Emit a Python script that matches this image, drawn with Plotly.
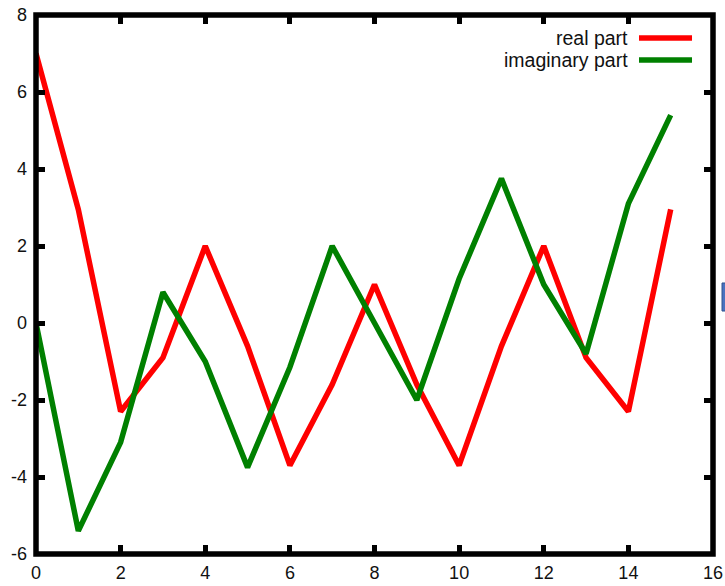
import plotly.graph_objects as go

# Spectrum components for bins 0..15
bins = list(range(16))
real_part = [7.0, 2.95, -2.3, -0.9, 2.0, -0.6, -3.7, -1.6, 1.0, -1.6, -3.7, -0.6, 2.0, -0.9, -2.3, 2.95]
imag_part = [0.0, -5.4, -3.1, 0.8, -1.0, -3.75, -1.15, 2.0, 0.0, -2.0, 1.15, 3.75, 1.0, -0.8, 3.1, 5.4]

series_names = ["real part", "imaginary part"]
series_colors = ["#ff0000", "#008000"]

x_ticks = list(range(0, 17, 2))
y_ticks = list(range(-6, 9, 2))
# plain hyphen-minus labels
x_labels = [str(v) for v in x_ticks]
y_labels = [str(v) for v in y_ticks]

fig = go.Figure()
for name, vals, col in zip(series_names, [real_part, imag_part], series_colors):
    fig.add_trace(go.Scatter(x=bins, y=vals, mode="lines", name=name,
                             line=dict(color=col, width=5.5), showlegend=False))

tick_font = dict(family="Liberation Sans, Arial, sans-serif", size=18, color="#111111")

fig.update_layout(
    width=725, height=586,
    margin=dict(l=36, r=12, t=15, b=32, pad=0),
    paper_bgcolor="white", plot_bgcolor="white",
    xaxis=dict(range=[0, 16], tickvals=x_ticks, ticktext=x_labels, ticks="inside", ticklen=9,
               tickwidth=4.5, tickcolor="black", mirror="ticks", showline=False, showgrid=False,
               zeroline=False, tickfont=tick_font, ticklabelstandoff=6, automargin=False),
    yaxis=dict(range=[-6, 8], tickvals=y_ticks, ticktext=y_labels, ticks="inside", ticklen=9,
               tickwidth=4.5, tickcolor="black", mirror="ticks", showline=False, showgrid=False,
               zeroline=False, tickfont=tick_font, ticklabelstandoff=8, automargin=False),
)

# Frame around the plotting area
fig.add_shape(type="rect", xref="paper", yref="paper", x0=0, x1=1, y0=0, y1=1,
              line=dict(color="black", width=5.5), layer="above")

# Key in the top-right corner: label followed by a line sample
key_rows_y = [0.9573, 0.9165]
for name, col, ky in zip(series_names, series_colors, key_rows_y):
    fig.add_annotation(xref="paper", yref="paper", x=0.8774, y=ky, text=name,
                       showarrow=False, xanchor="right", yanchor="middle",
                       font=dict(family="Liberation Sans, Arial, sans-serif", size=19.5, color="#111111"))
    fig.add_shape(type="line", xref="paper", yref="paper", x0=0.8907, x1=0.9690, y0=ky, y1=ky,
                  line=dict(color=col, width=5.5))

# Small blue marker at the right edge of the page
fig.add_shape(type="rect", xref="paper", yref="paper", x0=1.0133, x1=1.0240, y0=0.4508, y1=0.5028,
              line=dict(color="#2f528f", width=1), fillcolor="#4a72c0")

fig.write_html("out.html")
